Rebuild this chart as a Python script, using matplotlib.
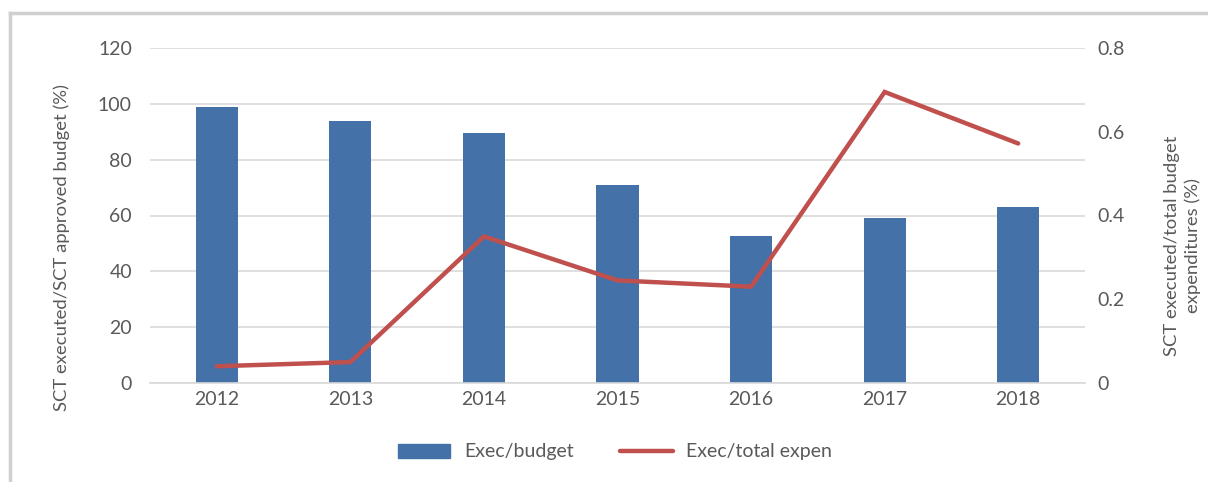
import numpy as np
import matplotlib
matplotlib.use("Agg")
import matplotlib.pyplot as plt
from matplotlib.lines import Line2D
from matplotlib.patches import Patch

years = ["2012", "2013", "2014", "2015", "2016", "2017", "2018"]
exec_budget = [99, 94, 89.7, 71, 52.5, 59, 63]
exec_total = [0.04, 0.05, 0.35, 0.245, 0.23, 0.695, 0.572]

plt.rcParams['font.family'] = ['Lato', 'DejaVu Sans']
txt = '#595959'
grid = '#d9d9d9'
bar_col = '#4371a8'
line_col = '#c0504d'

fig = plt.figure(figsize=(12.08, 4.82), dpi=100)
ax = fig.add_axes([150/1208, 1 - 383/482, 935/1208, 335/482])
ax2 = ax.twinx()

x = np.arange(len(years))
ax.bar(x, exec_budget, width=0.315, color=bar_col, zorder=2)
ax2.plot(x, exec_total, color=line_col, lw=3.2, solid_capstyle='round',
         solid_joinstyle='miter', zorder=3)

ax.set_xlim(-0.5, len(years) - 0.5)
ax.set_ylim(0, 120)
ax.set_yticks(range(0, 121, 20))
ax2.set_ylim(0, 0.8)
ax2.set_yticks([0, 0.2, 0.4, 0.6, 0.8])
ax2.set_yticklabels(["0", "0.2", "0.4", "0.6", "0.8"])
ax.set_xticks(x)
ax.set_xticklabels(years)

ax.yaxis.grid(True, color=grid, lw=1.2, zorder=0)
ax.set_axisbelow(True)
for a in (ax, ax2):
    for s in a.spines.values():
        s.set_visible(False)
    a.tick_params(length=0, labelsize=14, colors=txt)
ax.spines['bottom'].set_visible(True)
ax.spines['bottom'].set_color(grid)
ax.spines['bottom'].set_linewidth(1.2)
ax.tick_params(axis='y', pad=13)
ax.tick_params(axis='x', pad=6)
ax2.tick_params(axis='y', pad=9)

ax.set_ylabel("SCT executed/SCT approved budget (%)", fontsize=13.3, color=txt)
ax.yaxis.set_label_coords(-0.0856, 0.403)
ax2.set_ylabel("SCT executed/total budget\nexpenditures (%)", fontsize=13.3, color=txt,
               linespacing=1.3)
ax2.yaxis.set_label_coords(1.0845, 0.409)

handles = [Patch(color=bar_col), Line2D([0], [0], color=line_col, lw=3.2, solid_capstyle='round')]
fig.legend(handles, ["Exec/budget", "Exec/total expen"], loc='center',
           bbox_to_anchor=(615/1208, 1 - 452/482), ncol=2, frameon=False,
           fontsize=14, labelcolor=txt, handlelength=2.7, handleheight=0.72,
           columnspacing=2.4, handletextpad=0.7)

# chart frame (only top and left edges inside the image)
fig.add_artist(Line2D([9.5/1208, 9.5/1208], [0, 1 - 13/482], color='#d0d0d0', lw=2.5))
fig.add_artist(Line2D([9.5/1208, 1], [1 - 13/482, 1 - 13/482], color='#d0d0d0', lw=2.5))

fig.savefig("out.png", dpi=100)
